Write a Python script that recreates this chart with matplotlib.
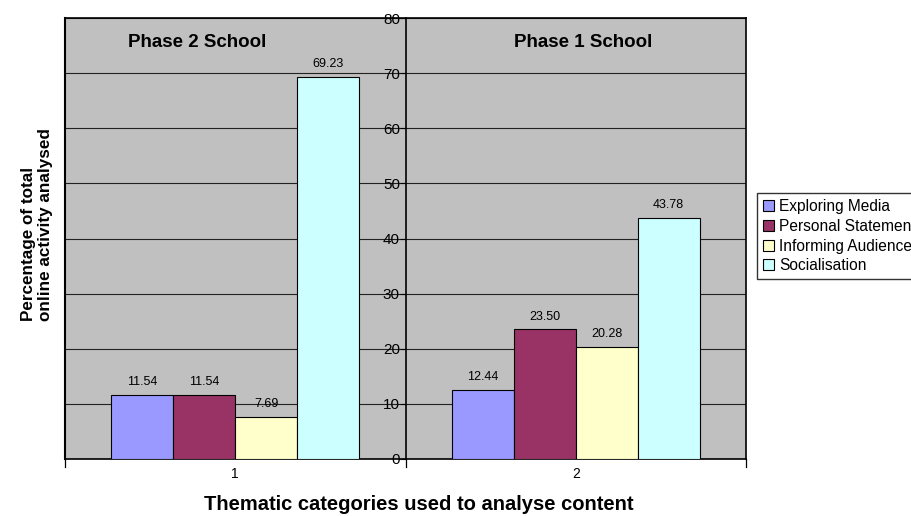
import matplotlib
matplotlib.use("Agg")
import matplotlib.pyplot as plt
import numpy as np

plt.rcParams['font.family'] = ['Liberation Sans', 'DejaVu Sans']

groups = ["1", "2"]
panel_titles = ["Phase 2 School", "Phase 1 School"]
series_names = ["Exploring Media", "Personal Statement", "Informing Audience", "Socialisation"]
exploring = [11.54, 12.44]
personal = [11.54, 23.50]
informing = [7.69, 20.28]
socialisation = [69.23, 43.78]
colors = ["#9999FF", "#993366", "#FFFFCC", "#CCFFFF"]
yticks = [0, 10, 20, 30, 40, 50, 60, 70, 80]

series = [exploring, personal, informing, socialisation]

fig = plt.figure(figsize=(9.12, 5.16), dpi=100)
ax = fig.add_axes([65/912, 1-459/516, 681/912, 441/516])
ax.set_facecolor("#C0C0C0")

centers = np.arange(len(groups)) + 0.5
bw = 0.182
n = len(series)
for i, (vals, c, name) in enumerate(zip(series, colors, series_names)):
    xs = centers + (i - (n-1)/2) * bw
    ax.bar(xs, vals, width=bw, color=c, edgecolor="black", linewidth=0.8,
           label=name, zorder=3)
    for x, v in zip(xs, vals):
        ax.annotate(f"{v:.2f}", (x, v), xytext=(0, 5), textcoords="offset points",
                    ha="center", va="bottom", fontsize=9, zorder=4)

ax.set_xlim(0, 2)
ax.set_ylim(0, 80)
ax.set_yticks(yticks)
ax.yaxis.grid(True, color="#222222", linewidth=0.8, zorder=1)
ax.set_axisbelow(True)

ax.spines['left'].set_position(('data', 1.0))
ax.spines['left'].set_zorder(5)
ax.spines['left'].set_bounds(0, 80)
for s in ['top', 'right', 'bottom', 'left']:
    ax.spines[s].set_color("black")
    ax.spines[s].set_linewidth(1.2)
ax.tick_params(axis='y', direction='out', length=4, width=0.8, labelsize=11, pad=0)
for lab in ax.get_yticklabels():
    lab.set_zorder(6)

# x ticks: labels at centers, tick marks at boundaries
ax.set_xticks(centers)
ax.set_xticklabels(groups, fontsize=10)
ax.tick_params(axis='x', length=0, pad=6)
for xb in [0, 1, 2]:
    ax.plot([xb, xb], [0, -1.4], color="black", linewidth=0.9, clip_on=False, zorder=6)

# left border of plot frame
ax.plot([0, 0], [0, 80], color="black", linewidth=1.5, clip_on=False, zorder=6)

title_x = [0.388, 1.521]
for tx, t in zip(title_x, panel_titles):
    ax.text(tx, 75.5, t, ha="center", va="center",
            fontsize=13.5, fontweight="bold", zorder=6)

fig.text(419/912, 1-505/516, "Thematic categories used to analyse content",
         ha="center", va="center", fontsize=14.5, fontweight="bold")
fig.text(37/912, 1-225/516, "Percentage of total\nonline activity analysed",
         rotation=90, ha="center", va="center", fontsize=12.3, fontweight="bold",
         linespacing=1.15, multialignment="left")

leg = fig.legend(loc="upper left", bbox_to_anchor=(757/912, 1-193/516),
                 fontsize=11.2, frameon=True, fancybox=False, shadow=False,
                 handlelength=0.72, handleheight=0.72, handletextpad=0.3,
                 labelspacing=0.3, borderpad=0.4, borderaxespad=0)
leg.get_frame().set_edgecolor("black")
leg.get_frame().set_linewidth(1.0)
for h in leg.legend_handles:
    h.set_edgecolor("black")
    h.set_linewidth(0.8)

fig.savefig("out.png", dpi=100)
